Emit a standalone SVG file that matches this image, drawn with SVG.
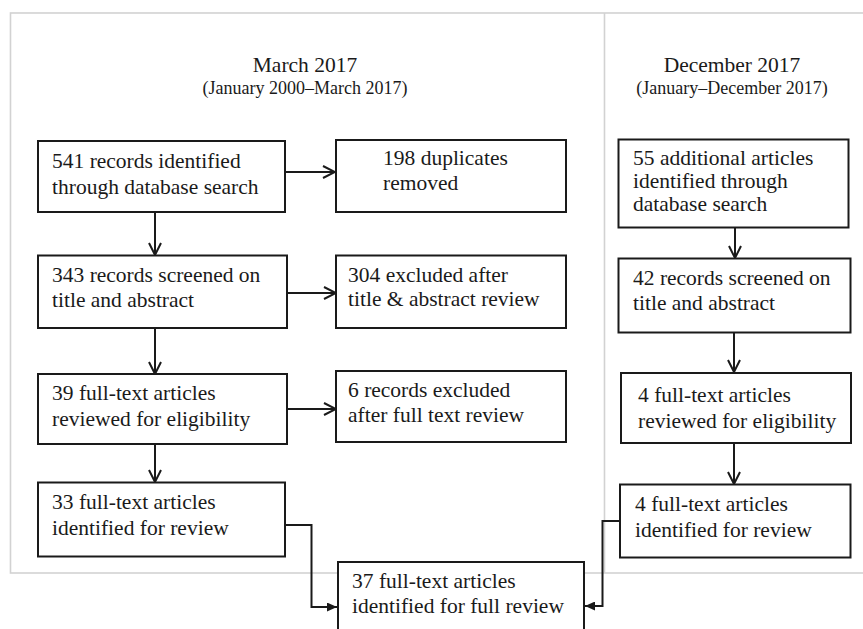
<svg xmlns="http://www.w3.org/2000/svg" width="863" height="629" viewBox="0 0 863 629" font-family="Liberation Serif, Times New Roman, serif">
<style>
.frame{fill:none;stroke:#d2d2d2;stroke-width:1.6}
.box{fill:#fff;stroke:#1a1a1a;stroke-width:2}
.h1{font-size:21.5px;fill:#1a1a1a;text-anchor:middle}
.h2{font-size:18px;fill:#1a1a1a;text-anchor:middle}
.lb{font-size:21.5px;fill:#1a1a1a}
.c{fill:none;stroke:#1a1a1a;stroke-width:2}
</style>
<defs>
<marker id="open" viewBox="0 0 14 14" refX="13" refY="7" markerWidth="14" markerHeight="14" orient="auto" markerUnits="userSpaceOnUse">
<path d="M1,1 L13,7 L1,13" fill="none" stroke="#1a1a1a" stroke-width="2"/>
</marker>
<marker id="solid" viewBox="0 0 10 9" refX="10" refY="4.5" markerWidth="10" markerHeight="9" orient="auto" markerUnits="userSpaceOnUse">
<path d="M0,0 L10,4.5 L0,9 z" fill="#1a1a1a"/>
</marker>
</defs>
<rect width="863" height="629" fill="#fff"/>
<g id="frame">
<rect class="frame" x="10.5" y="13" width="860" height="560"/>
<line class="frame" x1="604.5" y1="13" x2="604.5" y2="573"/>
</g>
<g id="titles">
<text class="h1" x="305" y="72">March 2017</text>
<text class="h2" x="305" y="94">(January 2000–March 2017)</text>
<text class="h1" x="732" y="72">December 2017</text>
<text class="h2" x="732" y="94">(January–December 2017)</text>
</g>
<g id="connectors">
<path class="c" d="M285,172 H335" marker-end="url(#open)"/>
<path class="c" d="M155,212 V255" marker-end="url(#open)"/>
<path class="c" d="M287,293 H336" marker-end="url(#open)"/>
<path class="c" d="M155,328 V374" marker-end="url(#open)"/>
<path class="c" d="M287,409 H336" marker-end="url(#open)"/>
<path class="c" d="M155,444 V482" marker-end="url(#open)"/>
<path class="c" d="M735,227 V258" marker-end="url(#open)"/>
<path class="c" d="M734,332 V372" marker-end="url(#open)"/>
<path class="c" d="M734,443 V484" marker-end="url(#open)"/>
<path class="c" d="M285,525 H311.5 V607 H337" marker-end="url(#solid)"/>
<path class="c" d="M620,521 H602.5 V606 H585" marker-end="url(#solid)"/>
</g>
<g id="box-identified">
<rect class="box" x="38" y="141" width="247" height="71"/>
<text class="lb" x="52" y="168"><tspan x="52" y="168">541 records identified</tspan><tspan x="52" y="194">through database search</tspan></text>
</g>
<g id="box-duplicates">
<rect class="box" x="336" y="140" width="230" height="72"/>
<text class="lb" x="383" y="165"><tspan x="383" y="165">198 duplicates</tspan><tspan x="383" y="190">removed</tspan></text>
</g>
<g id="box-screened">
<rect class="box" x="38" y="255.5" width="249" height="72.5"/>
<text class="lb" x="52" y="282"><tspan x="52" y="282">343 records screened on</tspan><tspan x="52" y="307">title and abstract</tspan></text>
</g>
<g id="box-excluded-ta">
<rect class="box" x="336" y="255.5" width="230" height="72.5"/>
<text class="lb" x="348" y="282"><tspan x="348" y="282">304 excluded after</tspan><tspan x="348" y="306">title &amp; abstract review</tspan></text>
</g>
<g id="box-eligibility">
<rect class="box" x="38" y="374" width="249" height="70"/>
<text class="lb" x="52" y="400"><tspan x="52" y="400">39 full-text articles</tspan><tspan x="52" y="426">reviewed for eligibility</tspan></text>
</g>
<g id="box-excluded-ft">
<rect class="box" x="336" y="371" width="230" height="71"/>
<text class="lb" x="348" y="397"><tspan x="348" y="397">6 records excluded</tspan><tspan x="348" y="422">after full text review</tspan></text>
</g>
<g id="box-included-mar">
<rect class="box" x="38" y="482.5" width="247" height="74"/>
<text class="lb" x="52" y="509"><tspan x="52" y="509">33 full-text articles</tspan><tspan x="52" y="535">identified for review</tspan></text>
</g>
<g id="box-additional">
<rect class="box" x="618.5" y="139.5" width="230" height="88"/>
<text class="lb" x="633" y="165" font-size="20.5"><tspan x="633" y="165">55 additional articles</tspan><tspan x="633" y="188">identified through</tspan><tspan x="633" y="211">database search</tspan></text>
</g>
<g id="box-screened-dec">
<rect class="box" x="618.5" y="258.5" width="232" height="74"/>
<text class="lb" x="633" y="285"><tspan x="633" y="285">42 records screened on</tspan><tspan x="633" y="310">title and abstract</tspan></text>
</g>
<g id="box-eligibility-dec">
<rect class="box" x="621" y="373" width="230" height="70"/>
<text class="lb" x="638" y="402"><tspan x="638" y="402">4 full-text articles</tspan><tspan x="638" y="428">reviewed for eligibility</tspan></text>
</g>
<g id="box-included-dec">
<rect class="box" x="620" y="484.5" width="230.5" height="73"/>
<text class="lb" x="635" y="511"><tspan x="635" y="511">4 full-text articles</tspan><tspan x="635" y="537">identified for review</tspan></text>
</g>
<g id="box-final">
<rect class="box" x="338" y="562" width="246" height="80"/>
<text class="lb" x="352" y="588" font-size="22"><tspan x="352" y="588">37 full-text articles</tspan><tspan x="352" y="613">identified for full review</tspan></text>
</g>
</svg>
